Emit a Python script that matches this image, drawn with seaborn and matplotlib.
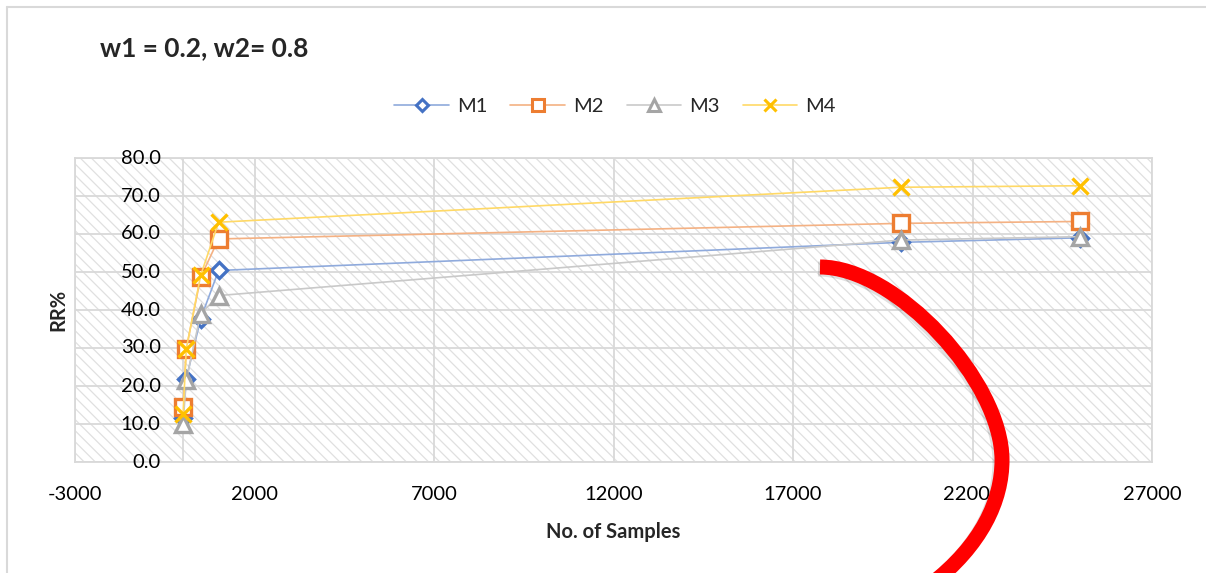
import matplotlib
matplotlib.use("Agg")
import matplotlib.pyplot as plt
import seaborn as sns
import pandas as pd
from matplotlib.lines import Line2D
from matplotlib.patches import Rectangle, PathPatch
from matplotlib.path import Path
from matplotlib import transforms
from matplotlib.colors import to_rgb

# ---- data -------------------------------------------------------------
samples = [10, 100, 500, 1000, 20000, 25000]
m1 = [11.5, 21.9, 37.7, 50.4, 57.8, 59.0]
m2 = [14.5, 29.8, 48.6, 58.7, 62.8, 63.3]
m3 = [10.1, 21.6, 39.0, 43.8, 58.4, 59.3]
m4 = [12.7, 29.8, 49.1, 63.1, 72.3, 72.7]
series_names = ["M1", "M2", "M3", "M4"]
x_ticks = list(range(-3000, 27001, 5000))
y_ticks = list(range(0, 81, 10))

title = "w1 = 0.2, w2= 0.8"
x_title = "No. of Samples"
y_title = "RR%"

# ---- style ------------------------------------------------------------
sns.set_style("white")
plt.rcParams["font.family"] = ["Lato", "DejaVu Sans"]
plt.rcParams["hatch.linewidth"] = 0.9

W, H = 1206, 573
GRID = "#d9d9d9"
FS = 14.5

colors = ["#4472C4", "#ED7D31", "#A5A5A5", "#FFC000"]
markers = ["D", "s", "^", "x"]
msizes = [7.8, 11.0, 11.5, 11.5]


def lighten(c, a=0.6):
    r, g, b = to_rgb(c)
    return (r * a + (1 - a), g * a + (1 - a), b * a + (1 - a))


fig = plt.figure(figsize=(W / 100, H / 100), dpi=100)
ax = fig.add_axes([75 / W, 1 - 462 / H, (1152 - 75) / W, (462 - 158) / H])

# hatched plot area
ax.add_patch(Rectangle((0, 0), 1, 1, transform=ax.transAxes, facecolor="white",
                       edgecolor="#e0e0e0", hatch="\\\\\\", linewidth=0, zorder=0.2))

df = pd.DataFrame({"samples": samples, "M1": m1, "M2": m2, "M3": m3, "M4": m4})

handles = []
for i, name in enumerate(series_names):
    col = colors[i]
    sns.lineplot(data=df, x="samples", y=name, ax=ax, color=lighten(col),
                 lw=1.2, zorder=3 + i, sort=True)
    sns.lineplot(data=df, x="samples", y=name, ax=ax, color=col, linestyle="none",
                 marker=markers[i], markersize=msizes[i], markerfacecolor="white",
                 markeredgecolor=col, markeredgewidth=2.4, zorder=3.5 + i)
    handles.append(Line2D([], [], color=lighten(col), lw=1.2, marker=markers[i],
                          markersize=msizes[i] * 0.75, markerfacecolor="white",
                          markeredgecolor=col, markeredgewidth=2.2, label=name))

ax.set_xlim(-3000, 27000)
ax.set_ylim(0, 80)
ax.set_axisbelow(True)
ax.grid(True, color=GRID, lw=1.3, zorder=0.5)
ax.axvline(0, color=GRID, lw=1.3, zorder=0.6)
for s in ax.spines.values():
    s.set_color(GRID)
    s.set_linewidth(1.3)

ax.set_xticks(x_ticks)
ax.set_xticklabels([str(v) for v in x_ticks], fontsize=FS)
ax.set_yticks(y_ticks)
ax.set_yticklabels([])
ax.tick_params(axis="both", length=0)
ax.tick_params(axis="x", pad=17, colors="black")

# value-axis labels sit beside the vertical axis that crosses at x = 0
ylab_tr = transforms.offset_copy(ax.transData, fig=fig, x=-22, y=0, units="dots")
for v in y_ticks:
    ax.text(0, v, f"{v:.1f}", transform=ylab_tr, ha="right", va="center",
            fontsize=FS, color="black", zorder=10)

ax.set_xlabel(x_title, fontsize=FS, fontweight="bold")
ax.xaxis.set_label_coords(0.5, (462 - 532) / 304)
ax.xaxis.label.set_va("center")
ax.set_ylabel(y_title, fontsize=FS, fontweight="bold")
ax.yaxis.set_label_coords((58 - 75) / 1077, 0.5)
ax.yaxis.label.set_va("center")

fig.legend(handles=handles, loc="center", bbox_to_anchor=(615 / W, 1 - 106 / H),
           ncol=4, frameon=False, handlelength=2.7, handletextpad=0.4,
           columnspacing=1.15, fontsize=FS)

fig.text(100 / W, 1 - 48 / H, title, ha="left", va="center",
         fontsize=19, fontweight="bold")

# chart frame
fig.add_artist(Line2D([7 / W, 1], [1 - 7 / H, 1 - 7 / H], transform=fig.transFigure,
                      color=GRID, lw=1.5))
fig.add_artist(Line2D([7 / W, 7 / W], [1 - 7 / H, 0], transform=fig.transFigure,
                      color=GRID, lw=1.5))

# red curved highlight stroke
pts = [(820, 267), (896, 267), (1002, 381), (1002, 460),
       (1002, 500), (982, 545), (930, 585)]
codes = [Path.MOVETO] + [Path.CURVE4] * 6


def arc_path(dx=0, dy=0):
    return Path([((x + dx) / W, 1 - (y + dy) / H) for x, y in pts], codes)


fig.add_artist(PathPatch(arc_path(-2, 2), transform=fig.transFigure, facecolor="none",
                         edgecolor=(0, 0, 0, 0.12), lw=10.8, capstyle="butt"))
fig.add_artist(PathPatch(arc_path(), transform=fig.transFigure, facecolor="none",
                         edgecolor="#ff0000", lw=10.8, capstyle="butt"))

fig.savefig("out.png", dpi=100)
